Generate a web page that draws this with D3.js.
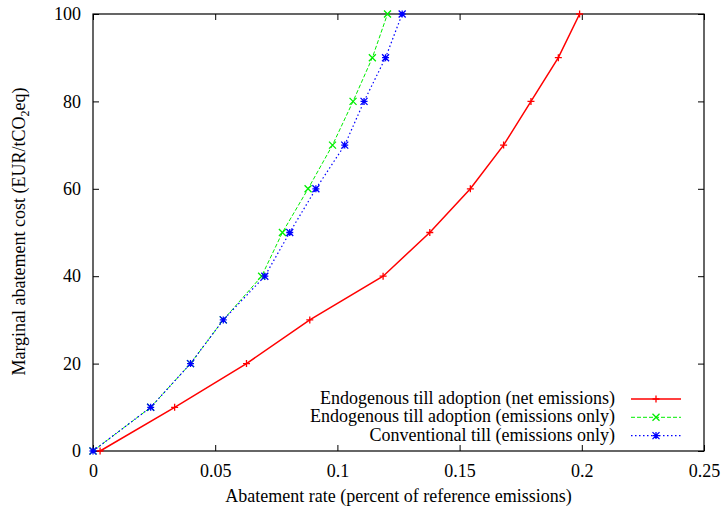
<!DOCTYPE html>
<html>
<head>
<meta charset="utf-8">
<script src="https://cdn.jsdelivr.net/npm/d3@7"></script>
<style>
  body { margin: 0; background: #fff; }
</style>
</head>
<body>
<script>
var width = 722,
    height = 507;

var serif = "Liberation Serif";

// marginal abatement cost levels (EUR/tCO2eq)
var costs = [0, 10, 20, 30, 40, 50, 60, 70, 80, 90, 100];

// abatement rates
var netEndo   = [0.0029, 0.0334, 0.0628, 0.0887, 0.1187, 0.1378, 0.1544, 0.1680, 0.1792, 0.1904, 0.1991];
var emisEndo  = [0.0, 0.0236, 0.0399, 0.0533, 0.0690, 0.0775, 0.0880, 0.0980, 0.1064, 0.1143, 0.1205];
var emisConv  = [0.0, 0.0236, 0.0399, 0.0533, 0.0703, 0.0805, 0.0912, 0.1030, 0.1109, 0.1197, 0.1265];

var xTicks = [0, 0.05, 0.1, 0.15, 0.2, 0.25];
var yTicks = [0, 20, 40, 60, 80, 100];

var seriesNames = [
  "Endogenous till adoption (net emissions)",
  "Endogenous till adoption (emissions only)",
  "Conventional till (emissions only)"
];

var margin = {left: 93, right: 18, top: 14, bottom: 56};

var x = d3.scaleLinear()
    .domain([0, 0.25])
    .range([margin.left, width - margin.right]);

var y = d3.scaleLinear()
    .domain([0, 100])
    .range([height - margin.bottom, margin.top]);

var svg = d3.select("body").append("svg")
    .attr("width", width)
    .attr("height", height);

var fmt = function(d) { return d === 0 ? "0" : String(d); };

// axes (gnuplot style: inward ticks, mirrored)
var axes = [
  svg.append("g")
    .attr("transform", "translate(0," + y(0) + ")")
    .call(d3.axisBottom(x).tickValues(xTicks).tickFormat(fmt).tickSizeInner(-6).tickSizeOuter(0).tickPadding(13)),
  svg.append("g")
    .attr("transform", "translate(" + x(0) + ",0)")
    .call(d3.axisLeft(y).tickValues(yTicks).tickFormat(fmt).tickSizeInner(-6).tickSizeOuter(0).tickPadding(12)),
  svg.append("g")
    .attr("transform", "translate(0," + y(100) + ")")
    .call(d3.axisTop(x).tickValues(xTicks).tickFormat("").tickSizeInner(-6).tickSizeOuter(0)),
  svg.append("g")
    .attr("transform", "translate(" + x(0.25) + ",0)")
    .call(d3.axisRight(y).tickValues(yTicks).tickFormat("").tickSizeInner(-6).tickSizeOuter(0))
];
axes.forEach(function(a) { a.attr("font-family", serif).attr("font-size", 18); });

svg.selectAll(".domain").remove();
svg.selectAll(".tick line").attr("stroke", "#000");
svg.selectAll(".tick text")
    .attr("fill", "#000")
    .attr("font-family", serif)
    .attr("font-size", 18);

svg.append("rect")
    .attr("x", x(0)).attr("y", y(100))
    .attr("width", x(0.25) - x(0)).attr("height", y(0) - y(100))
    .attr("fill", "none").attr("stroke", "#000").attr("stroke-width", 1.2);

// axis labels
svg.append("text")
    .attr("x", (x(0) + x(0.25)) / 2)
    .attr("y", 502)
    .attr("text-anchor", "middle")
    .attr("font-family", serif)
    .attr("font-size", 18)
    .text("Abatement rate (percent of reference emissions)");

var yl = svg.append("text")
    .attr("transform", "translate(25," + (y(50) - 1) + ") rotate(-90)")
    .attr("text-anchor", "middle")
    .attr("font-family", serif)
    .attr("font-size", 18);
yl.append("tspan").text("Marginal abatement cost (EUR/tCO");
yl.append("tspan").attr("font-size", 12).attr("dy", 4).text("2");
yl.append("tspan").attr("dy", -4).text("eq)");

// series
var series = [
  {name: seriesNames[0], vals: netEndo,  color: "#ff0000", dash: null,      width: 1.5, mark: "plus"},
  {name: seriesNames[1], vals: emisEndo, color: "#00ee00", dash: "4,2",     width: 1,   mark: "cross"},
  {name: seriesNames[2], vals: emisConv, color: "#0000ff", dash: "1.5,2.5", width: 1.2, mark: "star"}
];

var line = d3.line()
    .x(function(d) { return x(d[0]); })
    .y(function(d) { return y(d[1]); });

function marker(g, cx, cy, kind, color) {
  var s = 3.5;
  var p = "";
  if (kind === "plus" || kind === "star") {
    p += "M" + (cx - s) + "," + cy + "H" + (cx + s) + "M" + cx + "," + (cy - s) + "V" + (cy + s);
  }
  if (kind === "cross" || kind === "star") {
    p += "M" + (cx - s) + "," + (cy - s) + "L" + (cx + s) + "," + (cy + s) +
         "M" + (cx - s) + "," + (cy + s) + "L" + (cx + s) + "," + (cy - s);
  }
  g.append("path").attr("d", p).attr("stroke", color).attr("stroke-width", 1.3).attr("fill", "none");
}

series.forEach(function(s) {
  var pts = s.vals.map(function(v, i) { return [v, costs[i]]; });
  svg.append("path")
    .datum(pts)
    .attr("d", line)
    .attr("fill", "none")
    .attr("stroke", s.color)
    .attr("stroke-width", s.width)
    .attr("stroke-dasharray", s.dash);
  var g = svg.append("g");
  pts.forEach(function(p) { marker(g, x(p[0]), y(p[1]), s.mark, s.color); });
});

// legend
var legX = 615, legY = 399;
series.forEach(function(s, i) {
  var ly = legY + i * 18.3;
  svg.append("text")
    .attr("x", legX).attr("y", ly + 5)
    .attr("text-anchor", "end")
    .attr("font-family", serif)
    .attr("font-size", 18)
    .text(s.name);
  svg.append("line")
    .attr("x1", 631).attr("x2", 681).attr("y1", ly).attr("y2", ly)
    .attr("stroke", s.color).attr("stroke-width", s.width)
    .attr("stroke-dasharray", s.dash);
  marker(svg, 656, ly, s.mark, s.color);
});
</script>
</body>
</html>
